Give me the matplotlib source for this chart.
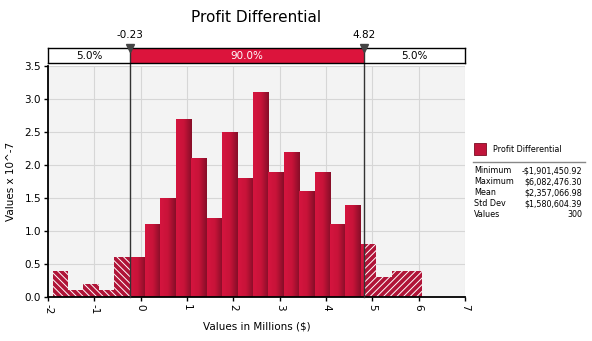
import numpy as np
import matplotlib
matplotlib.use("Agg")
import matplotlib.pyplot as plt
from matplotlib.colors import LinearSegmentedColormap
from matplotlib.patches import Rectangle

plt.rcParams['font.family'] = ['DejaVu Sans']

# ---- data ----
title = "Profit Differential"
x_label = "Values in Millions ($)"
y_label = "Values x 10^-7"
data_min = -1.90145092   # millions
data_max = 6.08247630
heights = [0.4, 0.1, 0.2, 0.1, 0.6, 0.6, 1.1, 1.5, 2.7, 2.1, 1.2, 2.5,
           1.8, 3.1, 1.9, 2.2, 1.6, 1.9, 1.1, 1.4, 0.8, 0.3, 0.4, 0.4]
cut_lo, cut_hi = -0.23, 4.82
cut_labels = ["-0.23", "4.82"]
pct_labels = ["5.0%", "90.0%", "5.0%"]
x_ticks = [-2, -1, 0, 1, 2, 3, 4, 5, 6, 7]
y_ticks = [0.0, 0.5, 1.0, 1.5, 2.0, 2.5, 3.0, 3.5]
stat_names = ["Minimum", "Maximum", "Mean", "Std Dev", "Values"]
stat_values = ["-$1,901,450.92", "$6,082,476.30", "$2,357,066.98", "$1,580,604.39", "300"]

# ---- figure ----
W, H = 592, 341
fig = plt.figure(figsize=(W / 100, H / 100), dpi=100)
L, R, T, B = 48, 465, 66, 297
ax = fig.add_axes([L / W, 1 - B / H, (R - L) / W, (B - T) / H])
ax.set_facecolor('#F3F3F3')
ax.set_xlim(-2, 7)
ax.set_ylim(0, 3.5)

nb = len(heights)
edges = np.linspace(data_min, data_max, nb + 1)
cmap = LinearSegmentedColormap.from_list('g', ['#D5153F', '#C81339', '#860E28'])
grad = np.linspace(0, 1, 64).reshape(1, -1)
hatch_col = '#B01438'
plt.rcParams['hatch.color'] = 'white'
plt.rcParams['hatch.linewidth'] = 0.7

for i, h in enumerate(heights):
    e0, e1 = edges[i], edges[i + 1]
    # left tail (hatched)
    if e0 < cut_lo:
        a, b = e0, min(e1, cut_lo)
        ax.bar(a, h, width=b - a, align='edge', facecolor=hatch_col,
               edgecolor='white', hatch='\\' * 5, linewidth=0, zorder=2)
    # right tail (hatched)
    if e1 > cut_hi:
        a, b = max(e0, cut_hi), e1
        ax.bar(a, h, width=b - a, align='edge', facecolor=hatch_col,
               edgecolor='white', hatch='/' * 5, linewidth=0, zorder=2)
    # middle (gradient)
    a, b = max(e0, cut_lo), min(e1, cut_hi)
    if b > a:
        bars = ax.bar(a, h, width=b - a, align='edge', facecolor='none',
                      linewidth=0, zorder=2)
        im = ax.imshow(grad, cmap=cmap, extent=(e0, e1, 0, h), aspect='auto',
                       origin='lower', zorder=2, interpolation='bilinear')
        im.set_clip_path(bars.patches[0])

ax.set_xlim(-2, 7)
ax.set_ylim(0, 3.5)

for x in (cut_lo, cut_hi):
    ax.axvline(x, ymin=0, ymax=1.02, color='#333333', lw=1, zorder=4, clip_on=False)

ax.set_xticks(x_ticks)
ax.set_xticklabels([str(t) for t in x_ticks], rotation=270, fontsize=7.5)
ax.set_yticks(y_ticks)
ax.set_yticklabels([f"{t:.1f}" for t in y_ticks], fontsize=7.5)
ax.grid(True, color='#D6D6D6', lw=0.8, zorder=0)
ax.set_axisbelow(True)
for s in ('top', 'right'):
    ax.spines[s].set_visible(False)
for s in ('left', 'bottom'):
    ax.spines[s].set_linewidth(1.3)
ax.tick_params(length=3, width=1, pad=2)
ax.set_xlabel(x_label, fontsize=7.5, labelpad=5)
ax.set_ylabel(y_label, fontsize=7.5, labelpad=6)

# ---- band ----
bt, bb = 48, 63
bax = fig.add_axes([L / W, 1 - bb / H, (R - L) / W, (bb - bt) / H])
bax.set_xlim(-2, 7)
bax.set_ylim(0, 1)
bax.set_xticks([]); bax.set_yticks([])
for s in bax.spines.values():
    s.set_linewidth(1.0)
bax.add_patch(Rectangle((cut_lo, 0), cut_hi - cut_lo, 1, facecolor='#DC143C', lw=0))
bax.text((-2 + cut_lo) / 2, 0.45, pct_labels[0], ha='center', va='center', fontsize=7.5)
bax.text((cut_lo + cut_hi) / 2, 0.45, pct_labels[1], ha='center', va='center', fontsize=7.5, color='white')
bax.text((cut_hi + 7) / 2, 0.45, pct_labels[2], ha='center', va='center', fontsize=7.5)
for x, lab in zip((cut_lo, cut_hi), cut_labels):
    bax.axvline(x, color='#333333', lw=1)
    bax.plot([x], [1.0], marker='v', ms=6, color='#444444', clip_on=False, zorder=5)
    bax.text(x, 1.55, lab, ha='center', va='bottom', fontsize=7.5)

fig.text((L + R) / 2 / W, 1 - 18 / H, title, ha='center', va='center', fontsize=11)

# ---- legend / stats ----
fig.patches.append(Rectangle((474 / W, 1 - 155 / H), 12 / W, 12 / H, transform=fig.transFigure,
                             facecolor='#C0143A', edgecolor='#7A0C22', lw=0.6))
fig.text(493 / W, 1 - 149 / H, title, ha='left', va='center', fontsize=5.8)
fig.add_artist(plt.Line2D([473 / W, 585 / W], [1 - 161.5 / H] * 2, transform=fig.transFigure,
                          color='#888888', lw=1))
for k, (n, v) in enumerate(zip(stat_names, stat_values)):
    yy = 1 - (170.7 + 11 * k) / H
    fig.text(474 / W, yy, n, ha='left', va='center', fontsize=5.8)
    fig.text(582 / W, yy, v, ha='right', va='center', fontsize=5.8)

fig.savefig('out.png', dpi=100, facecolor='white')
